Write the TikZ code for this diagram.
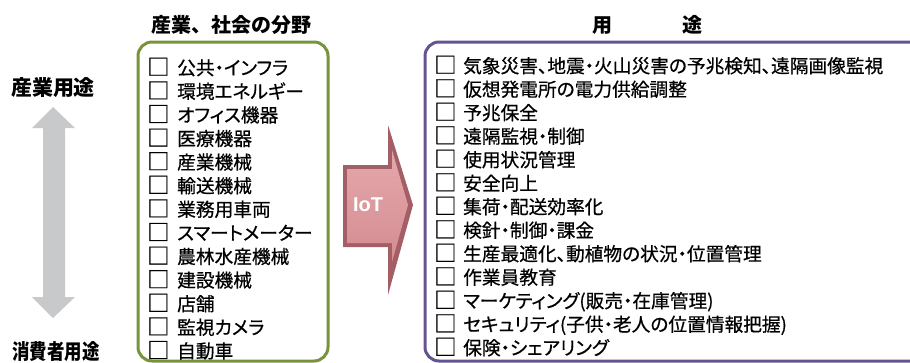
\documentclass[tikz,border=0pt]{standalone}
\usepackage{fontspec}
\newfontfamily\jp{Noto Sans CJK JP}
\newfontfamily\jpitem[RawFeature=+palt, FakeBold=0.6]{Noto Sans CJK JP}
\newfontfamily\iotfont{Liberation Sans}
\definecolor{boxgreen}{HTML}{77933C}
\definecolor{boxpurple}{HTML}{665391}
\definecolor{arrowgray}{HTML}{C8C9CB}
\definecolor{iotlight}{HTML}{E4A8AC}
\definecolor{iotmid}{HTML}{D48C91}
\definecolor{iotdark}{HTML}{A35F65}
\newcommand{\chkbox}{\raisebox{-0.5pt}{\scalebox{1.2}{□}}}
\tikzset{
  heading/.style={font=\jp\bfseries\fontsize{20pt}{24pt}\selectfont, inner sep=0pt},
  sidelabel/.style={font=\jp\bfseries\fontsize{21pt}{24pt}\selectfont, inner sep=0pt},
  item/.style={font=\jpitem\fontsize{18.7pt}{20pt}\selectfont, inner sep=0pt, anchor=base west},
  listbox/.style={line width=3pt, rounded corners=14pt},
}
\begin{document}
\begin{tikzpicture}[x=1pt, y=-1pt]
\useasboundingbox (0,0) rectangle (910,362);
\clip (0,0) rectangle (910,362);

% headings
\node[heading] (h1) at (231,25) {産業、社会の分野};
\node[heading] (h2) at (647,25) {用\hspace{70pt}途};

% side labels
\node[sidelabel] (top) at (53,88) {産業用途};
\node[sidelabel] (bottom) at (56,352) {\scalebox{0.83}[1]{消費者用途}};

% gray double arrow
\fill[arrowgray] (53,107) -- (75,128) -- (65,128) -- (65,297) -- (75,297) -- (53,318)
  -- (32,297) -- (43,297) -- (43,128) -- (32,128) -- cycle;

% boxes
\draw[listbox, boxgreen] (138,42) rectangle (328,361);
\draw[listbox, boxpurple] (425,42) rectangle (950,361);

% IoT arrow
\fill[iotdark] (343,165) -- (388,165) -- (388,125) -- (413,205) -- (388,295)
  -- (388,247) -- (343,247) -- cycle;
\shade[top color=iotlight, bottom color=iotmid] (347,169) -- (392,169) -- (392,150)
  -- (408,205) -- (392,262) -- (392,243) -- (347,243) -- cycle;
\node[font=\iotfont\bfseries\fontsize{20pt}{24pt}\selectfont, text=white, inner sep=0pt]
  (iot) at (368,205) {IoT};

% left items
\foreach \t [count=\i from 0] in {公共・インフラ, 環境エネルギー, オフィス機器, 医療機器,
  産業機械, 輸送機械, 業務用車両, スマートメーター, 農林水産機械, 建設機械, 店舗,
  監視カメラ, 自動車}
  \node[item] (L\i) at (147,{68+23.6*\i+6.8}) {\makebox[30pt][l]{\chkbox}\t};

% right items
\foreach \t [count=\i from 0] in {気象災害、地震・火山災害の予兆検知、遠隔画像監視,
  仮想発電所の電力供給調整, 予兆保全, 遠隔監視・制御, 使用状況管理, 安全向上,
  集荷・配送効率化, 検針・制御・課金, 生産最適化、動植物の状況・位置管理, 作業員教育,
  マーケティング(販売・在庫管理), セキュリティ(子供・老人の位置情報把握), 保険・シェアリング}
  \node[item] (R\i) at (434,{66+23.5*\i+6.8}) {\makebox[29pt][l]{\chkbox}\t};
\end{tikzpicture}
\end{document}
